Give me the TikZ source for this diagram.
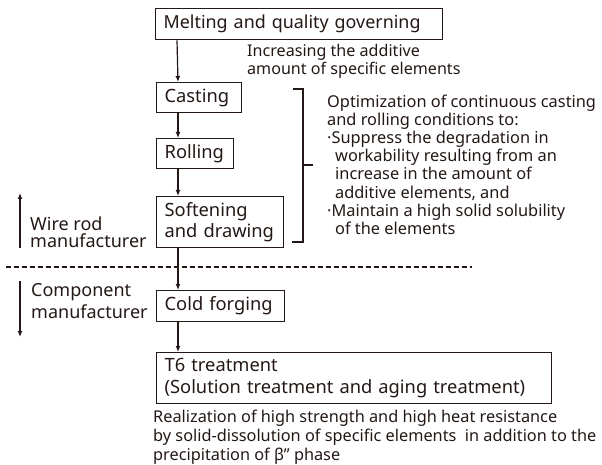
\documentclass[tikz,border=0pt]{standalone}
\usepackage{fontspec}
\setmainfont{Noto Sans}
\usetikzlibrary{arrows.meta}
\definecolor{ink}{RGB}{35,24,21}
\tikzset{
  stepbox/.style={draw=ink, line width=1.3pt, anchor=north west, inner xsep=8pt, inner ysep=0pt, align=left, text=ink},
  txt/.style={anchor=north west, inner sep=0pt, align=left, text=ink},
  arr/.style={draw=ink, line width=1.2pt, -{Latex[length=6pt,width=5pt]}},
  fs/.style n args={2}{font=\fontsize{#1}{#2}\selectfont},
}
\newcommand{\firstln}{\rule{0pt}{14pt}}
\begin{document}
\begin{tikzpicture}[x=1pt,y=-1pt]
\useasboundingbox (0,0) rectangle (602,465);
% boxes
\node[stepbox, fs={17.9}{20}, text width=271pt, minimum height=31pt] (melt) at (155,8) {Melting and quality governing};
\node[stepbox, fs={18.3}{20}, text width=69pt, minimum height=30pt] (cast) at (156,82) {Casting};
\node[stepbox, fs={18.3}{20}, text width=61pt, minimum height=30pt] (roll) at (156,138) {Rolling};
\node[stepbox, fs={18.3}{21}, text width=111pt, minimum height=51pt] (soft) at (156,196) {Softening\\and drawing};
\node[stepbox, fs={18.3}{20}, text width=112pt, minimum height=31pt] (cold) at (156,290) {Cold forging};
\node[stepbox, fs={18.3}{22}, text width=379pt, minimum height=51pt] (t6) at (156,352) {T6 treatment\\(Solution treatment and aging treatment)};
% arrows between steps
\draw[arr] ([xshift=22pt]melt.south west) -- ([xshift=22pt]cast.north west);
\draw[arr] ([xshift=22pt]cast.south west) -- ([xshift=22pt]roll.north west);
\draw[arr] ([xshift=22pt]roll.south west) -- ([xshift=22pt]soft.north west);
\draw[arr] ([xshift=22pt]soft.south west) -- ([xshift=22pt]cold.north west);
\draw[arr] ([xshift=22pt]cold.south west) -- ([xshift=22pt]t6.north west);
% texts
\node[txt, fs={16.1}{18.5}] (incr) at (247,42) {\firstln Increasing the additive\\amount of specific elements};
\node[txt, fs={16.35}{18.2}] (opt) at (327,93) {\firstln Optimization of continuous casting\\and rolling conditions to:\\·Suppress the degradation in\\\hspace*{8pt}workability resulting from an\\\hspace*{8pt}increase in the amount of\\\hspace*{8pt}additive elements, and\\·Maintain a high solid solubility\\\hspace*{8pt}of the elements};
\node[txt, fs={18}{17.5}] (wire) at (30,216) {\firstln Wire rod\\manufacturer};
\node[txt, fs={18}{22}] (comp) at (31,282) {\firstln Component\\manufacturer};
\node[txt, fs={16.3}{19}] (real) at (153,408) {\firstln Realization of high strength and high heat resistance\\by solid-dissolution of specific elements\ \ in addition to the\\precipitation of β” phase};
% bracket
\coordinate (bt) at (293,89);
\coordinate (bb) at (292,242);
\coordinate (bm) at (313,165);
\draw[ink, line width=1.3pt] (bt) -- (303,89) -- (303,242) -- (bb);
\draw[ink, line width=1.3pt] (303,165) -- (bm);
% dashed separator
\coordinate (dl) at (6,267);
\coordinate (dr) at (472,267);
\draw[ink, line width=1.3pt, dash pattern=on 5pt off 3pt] (dl) -- (dr);
% side arrows
\coordinate (w1) at (20,248);
\coordinate (w2) at (20,193);
\draw[arr] (w1) -- (w2);
\coordinate (c1) at (20,281);
\coordinate (c2) at (20,337);
\draw[arr] (c1) -- (c2);
\end{tikzpicture}
\end{document}
